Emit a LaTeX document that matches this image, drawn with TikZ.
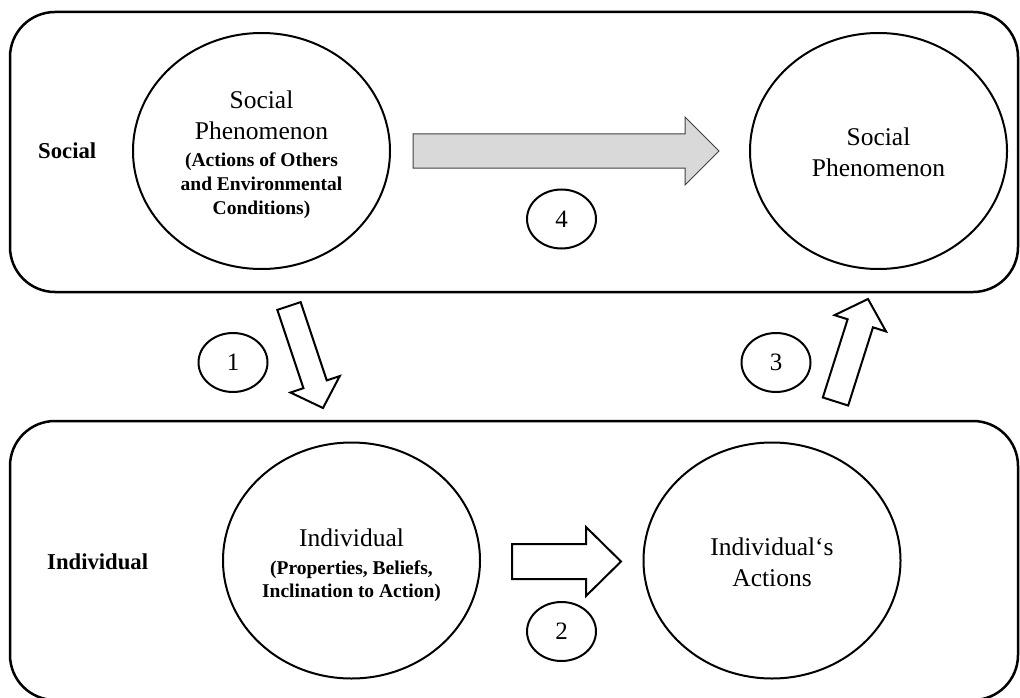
\documentclass[tikz,border=0pt]{standalone}
\usepackage{fontspec}
\setmainfont{Liberation Serif}
\usetikzlibrary{shapes.geometric,calc}

% block arrow: #1 style, #2 tail, #3 tip, #4 half shaft width, #5 half head width, #6 head length
\newcommand\blockarrow[6]{%
  \coordinate (ba-m) at ($(#3)!#6!(#2)$);
  \draw[#1] ($(#2)!#4!90:(#3)$) -- ($(ba-m)!#4!90:(#3)$) -- ($(ba-m)!#5!90:(#3)$) -- (#3)
    -- ($(ba-m)!#5!-90:(#3)$) -- ($(ba-m)!#4!-90:(#3)$) -- ($(#2)!#4!-90:(#3)$) -- cycle;}

\newcommand\bigtxt{\fontsize{25.5}{31}\selectfont}
\newcommand\smalltxt{\fontsize{19.5}{24}\selectfont\bfseries}

\tikzset{
  level/.style={draw, line width=2.5pt, rounded corners=45pt},
  phen/.style={draw, ellipse, line width=2pt, minimum width=257pt, minimum height=236pt,
    inner sep=0pt},
  phentext/.style={inner sep=0pt, align=center, font=\bigtxt},
  num/.style={draw, ellipse, line width=2pt, minimum width=69pt, minimum height=59pt,
    inner sep=0pt, font=\fontsize{25}{30}\selectfont},
  levellabel/.style={anchor=west, inner sep=0pt, font=\fontsize{22.7}{27}\selectfont\bfseries},
  openarrow/.style={draw=black, fill=white, line width=2pt},
  grayarrow/.style={draw=black!75, fill=black!15, line width=1pt},
}

\begin{document}
\begin{tikzpicture}[x=1pt, y=-1pt]
  \useasboundingbox (0,0) rectangle (1020,698);

  % the two levels
  \draw[level] (10,12) rectangle (1018,292);
  \draw[level] (10,421) rectangle (1018,700);

  \node[levellabel] (lsoc) at (38,151) {Social};
  \node[levellabel] (lind) at (47,562) {Individual};

  % macro level
  \node[phen] (sp1) at (261.5,151) {};
  \node[phentext] (sp1-t) at ($(sp1)+(0,3.5)$) {Social\\Phenomenon\\[-3.5pt]{\smalltxt (Actions of Others}\\[-7pt]{\smalltxt and Environmental}\\[-7pt]{\smalltxt Conditions)}};
  \node[phen] (sp2) at (878.5,151) {};
  \node[phentext] (sp2-t) at ($(sp2)+(0,1)$) {Social\\Phenomenon};

  % micro level
  \node[phen] (ind) at (351.5,560.5) {};
  \node[phentext] (ind-t) at ($(ind)+(0,4.5)$) {Individual\\[-2.5pt]{\smalltxt (Properties, Beliefs,}\\[-8pt]{\smalltxt Inclination to Action)}};
  \node[phen] (act) at (772,560.5) {};
  \node[phentext] (act-t) at ($(act)+(0,2)$) {Individual‘s\\Actions};

  % step numbers
  \node[num] (n1) at (233,362.5) {1};
  \node[num] (n2) at (561.5,631.5) {2};
  \node[num] (n3) at (776,362.5) {3};
  \node[num] (n4) at (561.5,219) {4};

  % transitions
  \coordinate (a1s) at (289,306);   \coordinate (a1t) at (323,408);
  \coordinate (a2s) at (512,561.5); \coordinate (a2t) at (621,561.5);
  \coordinate (a3s) at (835.5,401.5); \coordinate (a3t) at (868,299);
  \coordinate (a4s) at (413,151);   \coordinate (a4t) at (719,151);

  \blockarrow{openarrow}{a1s}{a1t}{12.3pt}{26pt}{25pt}
  \blockarrow{openarrow}{a2s}{a2t}{17.5pt}{34.5pt}{35pt}
  \blockarrow{openarrow}{a3s}{a3t}{13.3pt}{27pt}{25.5pt}
  \blockarrow{grayarrow}{a4s}{a4t}{17pt}{34pt}{34pt}
\end{tikzpicture}
\end{document}
